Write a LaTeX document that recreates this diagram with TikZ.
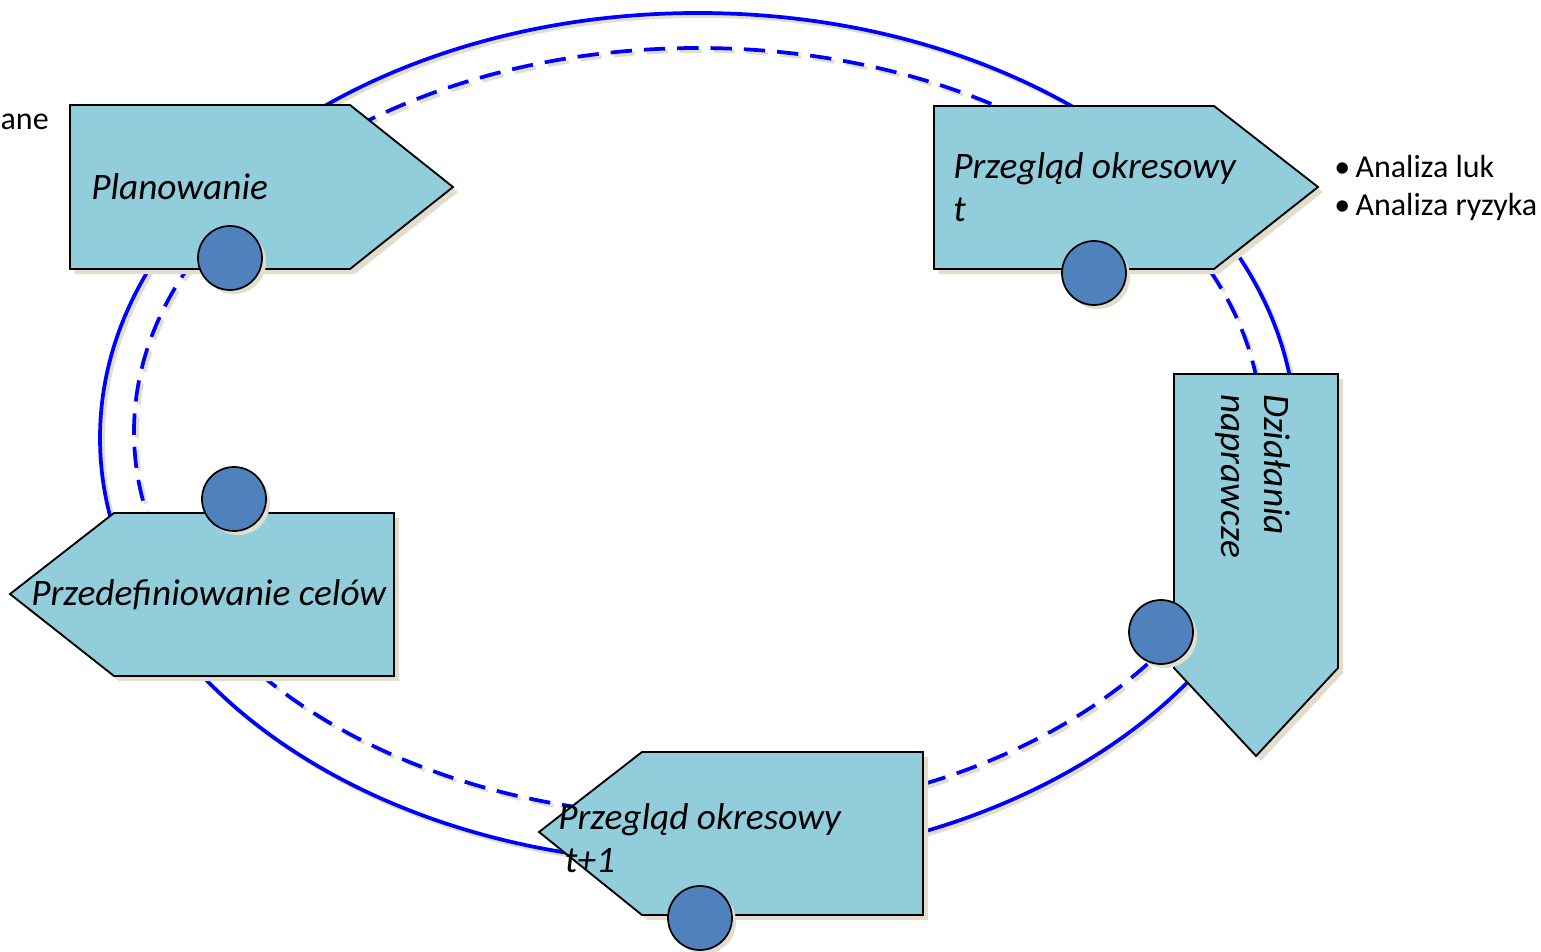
\documentclass[tikz,border=0pt]{standalone}
\usepackage{fontspec}
\setmainfont{Carlito}
\definecolor{stagefill}{RGB}{146,205,220}
\definecolor{markerfill}{RGB}{79,129,189}
\definecolor{shadowc}{RGB}{226,222,206}
\definecolor{ringblue}{RGB}{0,0,255}
\begin{document}
\begin{tikzpicture}[x=0.75pt,y=-0.75pt,
  stage/.style={fill=stagefill,draw=black,line width=1.4pt,line join=miter},
  stageshadow/.style={fill=shadowc,shift={(5,5)}},
  ring/.style={draw=ringblue,line width=2.8pt},
  ringdash/.style={ring,dash pattern=on 16pt off 9pt},
  ringshadow/.style={draw=shadowc,line width=2.8pt,shift={(3,3)}},
  marker/.style={circle,fill=markerfill,draw=black,line width=1.3pt,minimum size=48pt,inner sep=0pt},
  markershadow/.style={fill=shadowc},
  label/.style={font=\fontsize{28}{32.3}\selectfont\itshape,inner sep=0pt,align=left},
  note/.style={font=\fontsize{24}{28.5}\selectfont,inner sep=0pt,align=left}]
\useasboundingbox (0,0) rectangle (1541,952);

% cycle rings (shadow first)
\draw[ringshadow] (698,438) ellipse [x radius=598,y radius=425];
\draw[ringshadow,dash pattern=on 16pt off 9pt] (698,432) ellipse [x radius=564,y radius=384];
\draw[ring] (698,438) ellipse [x radius=598,y radius=425];
\draw[ringdash] (698,432) ellipse [x radius=564,y radius=384];

% stage shadows
\fill[stageshadow] (70,105) -- (350,105) -- (453,187) -- (350,269) -- (70,269) -- cycle;
\fill[stageshadow] (934,106) -- (1214,106) -- (1318,187) -- (1214,269) -- (934,269) -- cycle;
\fill[stageshadow] (1174,374) -- (1338,374) -- (1338,668) -- (1256,756) -- (1174,668) -- cycle;
\fill[stageshadow] (923,752) -- (923,915) -- (642,915) -- (539,832) -- (642,752) -- cycle;
\fill[stageshadow] (394,513) -- (394,676) -- (114,676) -- (10,594) -- (114,513) -- cycle;

% stages
\draw[stage] (70,105) -- (350,105) -- (453,187) -- (350,269) -- (70,269) -- cycle;
\draw[stage] (934,106) -- (1214,106) -- (1318,187) -- (1214,269) -- (934,269) -- cycle;
\draw[stage] (1174,374) -- (1338,374) -- (1338,668) -- (1256,756) -- (1174,668) -- cycle;
\draw[stage] (923,752) -- (923,915) -- (642,915) -- (539,832) -- (642,752) -- cycle;
\draw[stage] (394,513) -- (394,676) -- (114,676) -- (10,594) -- (114,513) -- cycle;

% stage labels
\node[label,anchor=base west] (plan) at (91,200) {Planowanie};
\node[label,anchor=north west] (reviewT) at (953,152) {Przegląd okresowy\\t};
\node[label,anchor=north west,rotate=-90] (fix) at (1291,394) {Działania\\naprawcze};
\node[label,anchor=north west] (reviewTT) at (558,803) {Przegląd okresowy\\\hspace{5pt}t+1};
\node[label,anchor=base west] (redef) at (31,605) {Przedefiniowanie celów};

% side notes
\node[note,anchor=north west] (analysis) at (1334,155) {\textbullet\hspace{4pt}Analiza luk\\\textbullet\hspace{4pt}Analiza ryzyka};
\node[note,anchor=base east] (goals) at (49,130) {ane};

% markers
\foreach \x/\y in {230/258,1094/273,1161/632,700/918,234/499}
  \fill[markershadow] (\x+4,\y+4) circle [radius=32];
\node[marker] (m1) at (230,258) {};
\node[marker] (m2) at (1094,273) {};
\node[marker] (m3) at (1161,632) {};
\node[marker] (m4) at (700,918) {};
\node[marker] (m5) at (234,499) {};
\end{tikzpicture}
\end{document}
